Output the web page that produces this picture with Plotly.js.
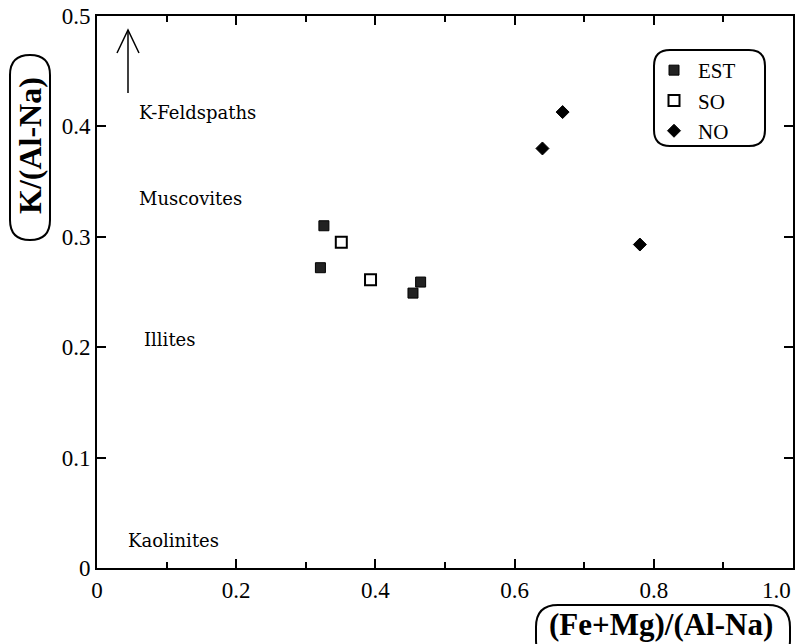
<!DOCTYPE html>
<html>
<head>
<meta charset="utf-8">
<script src="https://cdn.plot.ly/plotly-3.0.1.min.js"></script>
<style>html,body{margin:0;padding:0;background:#fff;}</style>
</head>
<body>
<div id="chart" style="width:797px;height:644px;"></div>
<script>
// ---- data ----
const estX = [0.326, 0.321, 0.465, 0.454];
const estY = [0.310, 0.272, 0.259, 0.249];
const soX = [0.351, 0.393];
const soY = [0.295, 0.261];
const noX = [0.669, 0.640, 0.780];
const noY = [0.413, 0.380, 0.293];
const seriesNames = ["EST", "SO", "NO"];
const xTickVals = [0, 0.2, 0.4, 0.6, 0.8, 1.0];
const xTickText = ["0", "0.2", "0.4", "0.6", "0.8", "1.0"];
const xMinorVals = [0.1, 0.3, 0.5, 0.7, 0.9];
const yTickVals = [0, 0.1, 0.2, 0.3, 0.4, 0.5];
const yTickText = ["0", "0.1", "0.2", "0.3", "0.4", "0.5"];
const regionLabels = ["K-Feldspaths", "Muscovites", "Illites", "Kaolinites"];
const regionX = [0.057, 0.057, 0.065, 0.041];
const regionY = [0.413, 0.335, 0.207, 0.025];
const xTitle = "(Fe+Mg)/(Al-Na)";
const yTitle = "K/(Al-Na)";

// ---- layout helpers (pixel -> paper) ----
const W = 797, H = 644;
const M = {l: 97, r: 4, t: 16, b: 76};
const PW = W - M.l - M.r, PH = H - M.t - M.b;
const px = x => (x - M.l) / PW;
const py = y => (H - M.b - y) / PH;
function roundRect(x0, y0, x1, y1, r) {
  const P = (x, y) => px(x).toFixed(5) + "," + py(y).toFixed(5);
  return "M" + P(x0 + r, y0) + " L" + P(x1 - r, y0) + " Q" + P(x1, y0) + " " + P(x1, y0 + r) +
    " L" + P(x1, y1 - r) + " Q" + P(x1, y1) + " " + P(x1 - r, y1) +
    " L" + P(x0 + r, y1) + " Q" + P(x0, y1) + " " + P(x0, y1 - r) +
    " L" + P(x0, y0 + r) + " Q" + P(x0, y0) + " " + P(x0 + r, y0) + " Z";
}
function linePath(pts) {
  return pts.map((p, i) => (i ? "L" : "M") + px(p[0]).toFixed(5) + "," + py(p[1]).toFixed(5)).join(" ");
}

const serif = "Liberation Serif";
const tickFont = {family: serif, size: 23, color: "#000"};

const traces = [
  {x: estX, y: estY, name: seriesNames[0], type: "scatter", mode: "markers",
   marker: {symbol: "square", size: 10, color: "#222", line: {color: "#000", width: 1}}},
  {x: soX, y: soY, name: seriesNames[1], type: "scatter", mode: "markers",
   marker: {symbol: "square-open", size: 11, color: "#000", line: {width: 2}}},
  {x: noX, y: noY, name: seriesNames[2], type: "scatter", mode: "markers",
   marker: {symbol: "diamond", size: 10, color: "#000", line: {color: "#000", width: 1}}}
];

// the last x tick label sits at the page edge: draw it right-aligned on its tick value
const lastIdx = xTickVals.length - 1;
const axisTickText = xTickText.map((t, i) => i === lastIdx ? "" : t);

const annotations = regionLabels.map((t, i) => ({
  text: t, x: regionX[i], y: regionY[i], xref: "x", yref: "y",
  xanchor: "left", yanchor: "middle", showarrow: false,
  font: {family: "DejaVu Serif", size: 18, color: "#000"}
}));
annotations.push({
  text: xTickText[lastIdx], x: xTickVals[lastIdx], xref: "x", yref: "paper",
  y: py(590), xanchor: "right", yanchor: "middle", showarrow: false,
  font: tickFont
});
annotations.push({
  text: "<b>" + yTitle + "</b>", textangle: -90, xref: "paper", yref: "paper",
  x: px(30), y: py(146), xanchor: "center", yanchor: "middle", showarrow: false,
  font: {family: serif, size: 32, color: "#000"}
});
annotations.push({
  text: "<b>" + xTitle + "</b>", xref: "paper", yref: "paper",
  x: px(661), y: py(624), xanchor: "center", yanchor: "middle", showarrow: false,
  font: {family: serif, size: 31, color: "#000"}
});

const shapes = [
  {type: "path", xref: "paper", yref: "paper", path: roundRect(10, 55, 50, 240, 20),
   line: {color: "#000", width: 2}},
  {type: "path", xref: "paper", yref: "paper", path: roundRect(536, 605, 790, 662, 22),
   line: {color: "#000", width: 2}},
  {type: "path", xref: "paper", yref: "paper", path: roundRect(654, 50, 765, 146, 16),
   line: {color: "#000", width: 2}},
  {type: "path", xref: "paper", yref: "paper", path: linePath([[128, 93], [128, 30]]),
   line: {color: "#000", width: 1.5}},
  {type: "path", xref: "paper", yref: "paper", path: linePath([[117, 53], [128, 30], [139, 53]]),
   line: {color: "#000", width: 1.5}}
];

const layout = {
  width: W, height: H,
  margin: M,
  paper_bgcolor: "#fff", plot_bgcolor: "#fff",
  showlegend: true,
  legend: {
    x: px(650), y: py(50), xanchor: "left", yanchor: "top",
    bgcolor: "rgba(0,0,0,0)", borderwidth: 0,
    font: {family: serif, size: 21, color: "#000"},
    tracegroupgap: 0, itemwidth: 38
  },
  xaxis: {
    range: [0, 1], showgrid: false, zeroline: false,
    showline: true, linecolor: "#000", linewidth: 2, mirror: "ticks",
    ticks: "inside", ticklen: 9, tickwidth: 2, tickcolor: "#000",
    tickmode: "array", tickvals: xTickVals, ticktext: axisTickText,
    tickfont: tickFont,
    minor: {tickvals: xMinorVals, ticks: "inside", ticklen: 6, tickwidth: 2, tickcolor: "#000", showgrid: false}
  },
  yaxis: {
    range: [0, 0.5], showgrid: false, zeroline: false,
    showline: true, linecolor: "#000", linewidth: 2, mirror: "ticks",
    ticks: "inside", ticklen: 9, tickwidth: 2, tickcolor: "#000",
    tickmode: "array", tickvals: yTickVals, ticktext: yTickText,
    ticklabeloverflow: "allow",
    tickfont: tickFont
  },
  annotations: annotations,
  shapes: shapes
};

Plotly.newPlot("chart", traces, layout, {staticPlot: true, displayModeBar: false});
</script>
</body>
</html>
